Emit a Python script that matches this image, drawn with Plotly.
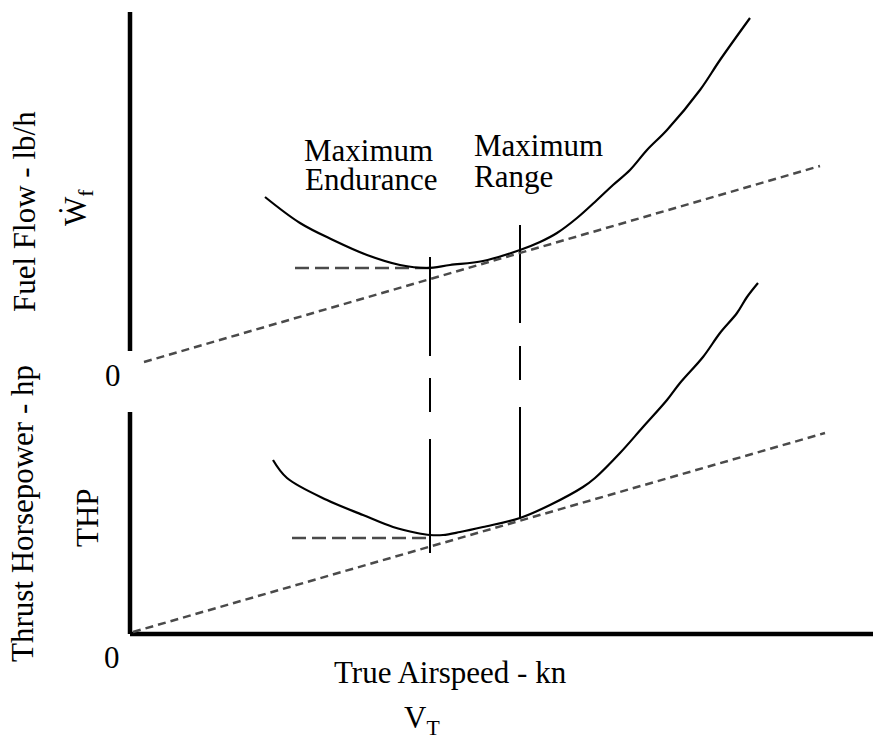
import plotly.graph_objects as go

W, H = 873, 738          # page body keeps an 8px margin; 8 + 873 = 881, 8 + 738 = 746
OFF = 8
FONT = "Liberation Serif, Times New Roman, serif"
FS = 31

# ---- data (arbitrary chart units) ----
# Top panel: fuel flow vs true airspeed
ff_x = [27, 34, 40.6, 47.4, 54, 59.4, 64, 70.6, 78, 82, 85.4, 89.4, 93.4, 96.6, 100, 103.4,
        107.4, 114, 118, 124]
ff_y = [33.0, 27.8, 24.4, 21.4, 19.4, 18.8, 19.4, 20.2, 22.4, 24.0, 25.8, 28.8, 32.4, 35.4, 38.4, 42.4,
        46.4, 54.4, 60.4, 68.8]
ff_tan_x = [2.8, 138]
ff_tan_y = [0, 39.2]
ff_min_x = [33, 60]
ff_min_y = [18.8, 18.8]

# Bottom panel: thrust horsepower vs true airspeed
thp_x = [28.6, 31.4, 39.4, 46.6, 52.6, 57.4, 60, 62.6, 66, 70.6, 78, 84, 90.6, 93, 98, 102.6,
         107.4, 110, 114.6, 118, 121.4, 123.4, 125.6]
thp_y = [34.8, 31.2, 26.8, 23.8, 21.4, 20.2, 19.8, 19.8, 20.4, 21.4, 23.2, 25.8, 29.4, 31.2, 36.2, 41.4,
         46.8, 50.2, 55.4, 60.2, 64.2, 67.4, 70.2]
thp_tan_x = [0.6, 139]
thp_tan_y = [0.4, 40.2]
thp_min_x = [32.4, 60]
thp_min_y = [19.2, 19.2]

# Reference speeds (max endurance, max range) and their guide segments (bottom units)
v_end = 60
v_rng = 78
end_seg_y = [75.4, 55.6, None, 51.2, 44.4, None, 39.0, 16.2]
rng_seg_y = [81.8, 62.2, None, 57.6, 50.8, None, 45.4, 23.2]

# Axes frame values
top_axis_y = [2.2, 70]
bot_axis_y = [0, 44.4]
x_axis_x = [0, 150.2]

# ---- layout helpers (pixel mapping of the chart units) ----
X0PX, SX = 130 - OFF, 5.0
YTOP0, YBOT0 = 362 - OFF, 634 - OFF


def xr():
    return [(0 - X0PX) / SX, (W - X0PX) / SX]


def yr(zero_px):
    return [(zero_px - H) / SX, zero_px / SX]


fig = go.Figure()
black = "#000000"
gray = "#4a4a4a"

# top panel (y2)
fig.add_trace(go.Scatter(x=[0, 0], y=top_axis_y, yaxis="y2", mode="lines",
                         line=dict(color=black, width=4.5)))
fig.add_trace(go.Scatter(x=ff_tan_x, y=ff_tan_y, yaxis="y2", mode="lines",
                         line=dict(color=gray, width=2.5, dash="8px,5px")))
fig.add_trace(go.Scatter(x=ff_min_x, y=ff_min_y, yaxis="y2", mode="lines",
                         line=dict(color=gray, width=2.5, dash="14px,6px")))
fig.add_trace(go.Scatter(x=ff_x, y=ff_y, yaxis="y2", mode="lines", line_shape="spline",
                         line=dict(color=black, width=2.2)))

# bottom panel (y)
fig.add_trace(go.Scatter(x=[0, 0], y=bot_axis_y, mode="lines", line=dict(color=black, width=4.5)))
fig.add_trace(go.Scatter(x=x_axis_x, y=[0, 0], mode="lines", line=dict(color=black, width=4.5)))
fig.add_trace(go.Scatter(x=thp_tan_x, y=thp_tan_y, mode="lines",
                         line=dict(color=gray, width=2.5, dash="8px,5px")))
fig.add_trace(go.Scatter(x=thp_min_x, y=thp_min_y, mode="lines",
                         line=dict(color=gray, width=2.5, dash="14px,6px")))
fig.add_trace(go.Scatter(x=thp_x, y=thp_y, mode="lines", line_shape="spline",
                         line=dict(color=black, width=2.2)))

# guide verticals
fig.add_trace(go.Scatter(x=[v_end if v is not None else None for v in end_seg_y], y=end_seg_y,
                         mode="lines", connectgaps=False, line=dict(color=black, width=2)))
fig.add_trace(go.Scatter(x=[v_rng if v is not None else None for v in rng_seg_y], y=rng_seg_y,
                         mode="lines", connectgaps=False, line=dict(color=black, width=2)))


def ann(text, px, py, angle=0, xanchor="center", size=FS):
    fig.add_annotation(text=text, x=(px - OFF) / W, y=1 - (py - OFF) / H, xref="paper", yref="paper",
                       showarrow=False, textangle=angle, xanchor=xanchor, yanchor="middle",
                       font=dict(family=FONT, size=size, color=black))


ann("Maximum", 368, 150)
ann("Endurance", 371, 180)
ann("Maximum", 472, 145, xanchor="left")
ann("Range", 472, 176, xanchor="left")
ann("0", 113, 375)
ann("0", 112, 657)
ann("True Airspeed - kn", 450, 672)
ann("V<sub>T</sub>", 422, 720)
ann("Fuel Flow - lb/h", 25, 212, angle=-90)
ann("Ẇ<sub>f</sub>", 78, 208, angle=-90)
ann("Thrust Horsepower - hp", 23, 514, angle=-90)
ann("THP", 87, 518, angle=-90)

axis_common = dict(showgrid=False, zeroline=False, showticklabels=False, showline=False, ticks="")
fig.update_layout(
    width=W, height=H,
    margin=dict(l=0, r=0, t=0, b=0),
    paper_bgcolor="white", plot_bgcolor="white",
    showlegend=False,
    xaxis=dict(range=xr(), domain=[0, 1], **axis_common),
    yaxis=dict(range=yr(YBOT0), domain=[0, 1], **axis_common),
    yaxis2=dict(range=yr(YTOP0), domain=[0, 1], overlaying="y", **axis_common),
)

fig.write_html("out.html")
